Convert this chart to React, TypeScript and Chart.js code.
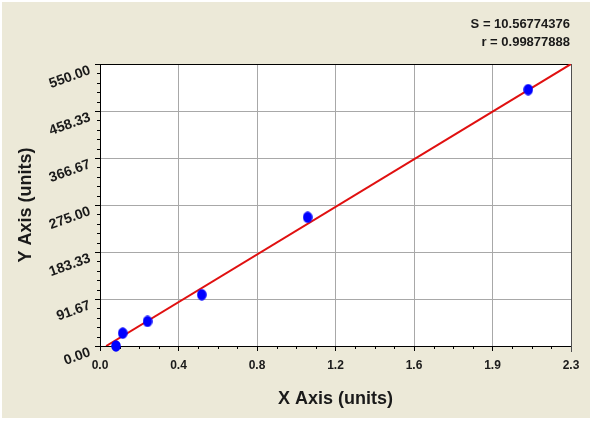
import React, { useEffect, useRef } from "react";
import { Chart, registerables } from "chart.js";

Chart.register(...registerables);

// ---- data ----
const xValues = [0.078, 0.111, 0.232, 0.497, 1.014, 2.091];
const yValues = [0, 25, 48, 100, 251, 500];
const fitX = [0.03, 2.3];
const fitY = [0, 550];
const xTickLabels = ["0.0", "0.4", "0.8", "1.2", "1.6", "1.9", "2.3"];
const yTickLabels = ["0.00", "91.67", "183.33", "275.00", "366.67", "458.33", "550.00"];
const xMax = 2.3;
const yMax = 550;
const statLines = ["S = 10.56774376", "r = 0.99877888"];
const xTitle = "X Axis (units)";
const yTitle = "Y Axis (units)";

const FONT = "'Liberation Sans', Arial, sans-serif";
const TEXT = "#1a1a1a";
const GRID = "#a8a8a8";

function makeEllipse(): HTMLCanvasElement {
  const c = document.createElement("canvas");
  c.width = 10;
  c.height = 12;
  const g = c.getContext("2d")!;
  g.fillStyle = "#0000ff";
  g.beginPath();
  g.ellipse(5, 6, 4.8, 5.8, 0, 0, Math.PI * 2);
  g.fill();
  return c;
}

const framePlugin = {
  id: "frame",
  beforeDraw(chart: any) {
    const { ctx, width, height, chartArea: a } = chart;
    ctx.save();
    ctx.fillStyle = "#ffffff";
    ctx.fillRect(0, 0, width, height);
    ctx.fillStyle = "#ECE9D8";
    ctx.fillRect(2, 2, 588, 416);
    ctx.fillStyle = "#ffffff";
    ctx.fillRect(a.left, a.top, a.right - a.left, a.bottom - a.top);
    ctx.restore();
  },
  beforeDatasetsDraw(chart: any) {
    const { ctx, chartArea: a, scales } = chart;
    const xs = scales.x;
    const ys = scales.y;
    ctx.save();
    ctx.strokeStyle = "#000000";
    ctx.lineWidth = 1;
    ctx.beginPath();
    const xm = xs.ticks.map((t: any) => t.value);
    for (let i = 0; i < xm.length - 1; i++) {
      for (let k = 1; k < 4; k++) {
        const px = Math.round(xs.getPixelForValue(xm[i] + ((xm[i + 1] - xm[i]) * k) / 4)) + 0.5;
        ctx.moveTo(px, Math.round(a.bottom));
        ctx.lineTo(px, Math.round(a.bottom) + 3);
      }
    }
    const ym = ys.ticks.map((t: any) => t.value);
    for (let i = 0; i < ym.length - 1; i++) {
      for (let k = 1; k < 5; k++) {
        const py = Math.round(ys.getPixelForValue(ym[i] + ((ym[i + 1] - ym[i]) * k) / 5)) + 0.5;
        ctx.moveTo(Math.round(a.left) - 3, py);
        ctx.lineTo(Math.round(a.left), py);
      }
    }
    // top border
    ctx.moveTo(a.left, Math.round(a.top) + 0.5);
    ctx.lineTo(a.right + 1, Math.round(a.top) + 0.5);
    ctx.stroke();
    // right border
    ctx.strokeStyle = "#505050";
    ctx.beginPath();
    ctx.moveTo(Math.round(a.right) + 0.5, a.top);
    ctx.lineTo(Math.round(a.right) + 0.5, a.bottom + 6);
    ctx.stroke();
    ctx.restore();
  },
  afterDraw(chart: any) {
    const { ctx, chartArea: a } = chart;
    ctx.save();
    ctx.fillStyle = TEXT;
    ctx.font = `bold 13px ${FONT}`;
    ctx.textAlign = "right";
    ctx.textBaseline = "middle";
    ctx.fillText(statLines[0], a.right - 1, a.top - 40);
    ctx.fillText(statLines[1], a.right - 1, a.top - 22);
    ctx.restore();
  },
};

export default function App() {
  const ref = useRef<HTMLCanvasElement | null>(null);

  useEffect(() => {
    if (!ref.current) return;
    const ellipse = makeEllipse();
    const chart = new Chart(ref.current, {
      type: "scatter",
      data: {
        datasets: [
          {
            label: "data",
            data: xValues.map((x, i) => ({ x, y: yValues[i] })),
            pointStyle: ellipse as any,
            pointRadius: 6,
            backgroundColor: "#0000ff",
            borderWidth: 0,
            clip: false as any,
            order: 0,
          },
          {
            label: "fit",
            data: fitX.map((x, i) => ({ x, y: fitY[i] })),
            showLine: true,
            borderColor: "#e01010",
            borderWidth: 2,
            pointRadius: 0,
            fill: false,
            order: 1,
          } as any,
        ],
      },
      options: {
        animation: false,
        responsive: false,
        devicePixelRatio: 1,
        layout: { padding: { top: 64, right: 29, bottom: 0, left: 0 } },
        plugins: {
          legend: { display: false },
          tooltip: { enabled: false },
        },
        scales: {
          x: {
            type: "linear",
            position: "bottom",
            min: 0,
            max: xMax,
            afterBuildTicks: (s: any) => {
              s.ticks = xTickLabels.map((_, i) => ({ value: (i * xMax) / (xTickLabels.length - 1) }));
            },
            afterFit: (s: any) => {
              s.height = 80;
            },
            ticks: {
              callback: (_v: any, i: number) => xTickLabels[i],
              autoSkip: false,
              maxRotation: 0,
              minRotation: 0,
              padding: 7,
              color: TEXT,
              font: { family: FONT, size: 12, weight: "bold" },
            },
            grid: { color: GRID, tickColor: "#000", tickLength: 5, lineWidth: 1 },
            border: { color: "#000", width: 1 },
            title: {
              display: true,
              text: xTitle,
              color: TEXT,
              font: { family: FONT, size: 18, weight: "bold" },
              padding: { top: 0, bottom: 16 },
            },
          },
          y: {
            type: "linear",
            position: "left",
            min: 0,
            max: yMax,
            afterBuildTicks: (s: any) => {
              s.ticks = yTickLabels.map((_, i) => ({ value: (i * yMax) / (yTickLabels.length - 1) }));
            },
            afterFit: (s: any) => {
              s.width = 100;
            },
            ticks: {
              callback: (_v: any, i: number) => yTickLabels[i],
              autoSkip: false,
              minRotation: 20,
              maxRotation: 20,
              padding: 5,
              labelOffset: 6,
              color: TEXT,
              font: { family: FONT, size: 14, weight: "bold" },
            },
            grid: { color: GRID, tickColor: "#000", tickLength: 5, lineWidth: 1 },
            border: { color: "#000", width: 1 },
            title: {
              display: true,
              text: yTitle,
              color: TEXT,
              font: { family: FONT, size: 18, weight: "bold" },
              padding: { top: 15, bottom: 0 },
            },
          },
        },
      } as any,
      plugins: [framePlugin],
    });
    return () => chart.destroy();
  }, []);

  return (
    <div style={{ position: "fixed", left: 0, top: 0, width: 600, height: 426 }}>
      <canvas ref={ref} width={600} height={426} style={{ display: "block", width: 600, height: 426 }} />
    </div>
  );
}
